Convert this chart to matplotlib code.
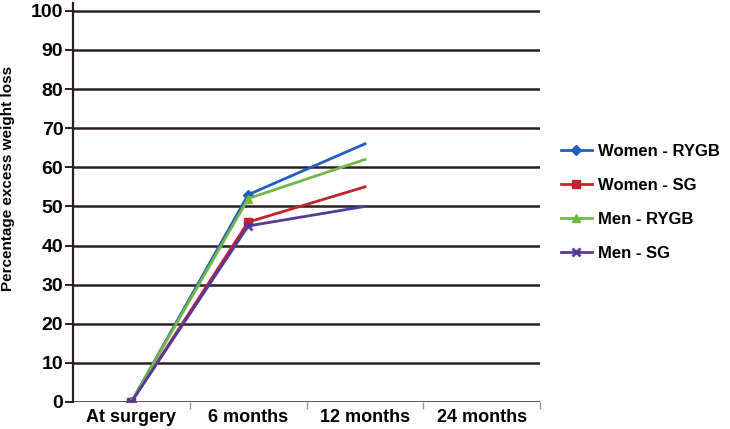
import matplotlib.pyplot as plt

# Data
categories = ["At surgery", "6 months", "12 months", "24 months"]
women_rygb = [0, 53, 66]
women_sg = [0, 46, 55]
men_rygb = [0, 52, 62]
men_sg = [0, 45, 50]

series = [
    ("Women - RYGB", women_rygb, "#1f5fbf", "D", 5),
    ("Women - SG", women_sg, "#c3242b", "s", 6),
    ("Men - RYGB", men_rygb, "#72b843", "^", 6),
    ("Men - SG", men_sg, "#55399a", "x", 6),
]

plt.rcParams["font.family"] = ["Liberation Sans", "DejaVu Sans"]
plt.rcParams["font.weight"] = "bold"

DARK = "#2b1f1f"

fig = plt.figure(figsize=(7.3, 4.29), dpi=100)
ax = fig.add_axes([0.1, 0.063, 0.64, 0.93])

for label, vals, color, marker, ms in series:
    ax.plot(range(len(vals)), vals, color=color, lw=2, marker=marker, ms=ms,
            mew=2 if marker == "x" else 1, markevery=[0, 1], label=label)

# Axes config
ax.set_xlim(-0.5, len(categories) - 0.5)
ax.set_ylim(0, 102)
ax.set_yticks(range(0, 101, 10))
ax.yaxis.grid(True, color=DARK, lw=1.8)
ax.set_axisbelow(True)

for s in ["top", "right", "bottom"]:
    ax.spines[s].set_visible(False)
ax.spines["left"].set_color(DARK)
ax.spines["left"].set_linewidth(1.6)

ax.set_xticks([i + 0.5 for i in range(len(categories))])
ax.set_xticklabels([])
ax.set_xticks(range(len(categories)), minor=True)
ax.set_xticklabels(categories, minor=True, fontsize=13, fontweight="bold")
ax.tick_params(axis="x", which="minor", length=0, pad=5)
ax.tick_params(axis="x", which="major", length=5, color="#999999", width=1)
ax.tick_params(axis="y", length=6, color=DARK, width=1.4, labelsize=14, pad=1)

ax.set_ylabel("Percentage excess weight loss", fontsize=11, fontweight="bold")
ax.yaxis.set_label_coords(-0.124, 0.56)

leg = ax.legend(loc="center left", bbox_to_anchor=(1.012, 0.50), frameon=False,
                fontsize=12, handlelength=1.85, labelspacing=1.15, handletextpad=0.37)
for t in leg.get_texts():
    t.set_fontweight("bold")

fig.savefig("out.png", dpi=100)
